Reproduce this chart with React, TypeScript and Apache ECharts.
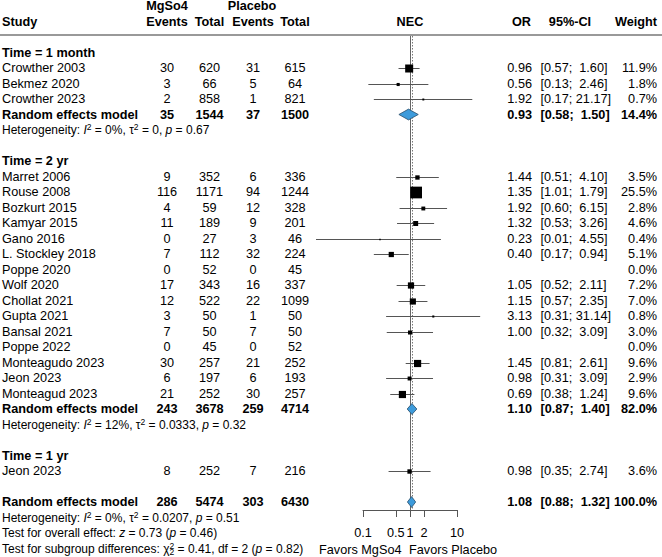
import React, { useEffect, useRef } from "react";
import * as echarts from "echarts";

const FONT = '"Liberation Sans", Arial, Helvetica, sans-serif';
const FS = 12.7;
const FS_SMALL = 12;

const groupLabels = ["Time = 1 month", "Time = 2 yr", "Time = 1 yr"];

const studies = [
  "Crowther 2003", "Bekmez 2020", "Crowther 2023",
  "Marret 2006", "Rouse 2008", "Bozkurt 2015", "Kamyar 2015", "Gano 2016",
  "L. Stockley 2018", "Poppe 2020", "Wolf 2020", "Chollat 2021", "Gupta 2021",
  "Bansal 2021", "Poppe 2022", "Monteagudo 2023", "Jeon 2023", "Monteagud 2023",
  "Jeon 2023",
];
const subgroup = [0, 0, 0, 1, 1, 1, 1, 1, 1, 1, 1, 1, 1, 1, 1, 1, 1, 1, 2];
const mgEvents = [30, 3, 2, 9, 116, 4, 11, 0, 7, 0, 17, 12, 3, 7, 0, 30, 6, 21, 8];
const mgTotal = [620, 66, 858, 352, 1171, 59, 189, 27, 112, 52, 343, 522, 50, 50, 45, 257, 197, 252, 252];
const plEvents = [31, 5, 1, 6, 94, 12, 9, 3, 32, 0, 16, 22, 1, 7, 0, 21, 6, 30, 7];
const plTotal = [615, 64, 821, 336, 1244, 328, 201, 46, 224, 45, 337, 1099, 50, 50, 52, 252, 193, 257, 216];
const oddsRatio = [0.96, 0.56, 1.92, 1.44, 1.35, 1.92, 1.32, 0.23, 0.4, null, 1.05, 1.15, 3.13, 1.0, null, 1.45, 0.98, 0.69, 0.98];
const ciLower = [0.57, 0.13, 0.17, 0.51, 1.01, 0.6, 0.53, 0.01, 0.17, null, 0.52, 0.57, 0.31, 0.32, null, 0.81, 0.31, 0.38, 0.35];
const ciUpper = [1.6, 2.46, 21.17, 4.1, 1.79, 6.15, 3.26, 4.55, 0.94, null, 2.11, 2.35, 31.14, 3.09, null, 2.61, 3.09, 1.24, 2.74];
const weight = [11.9, 1.8, 0.7, 3.5, 25.5, 2.8, 4.6, 0.4, 5.1, 0.0, 7.2, 7.0, 0.8, 3.0, 0.0, 9.6, 2.9, 9.6, 3.6];

// Random effects models: Time = 1 month, Time = 2 yr, overall
const pooledMgEvents = [35, 243, 286];
const pooledMgTotal = [1544, 3678, 5474];
const pooledPlEvents = [37, 259, 303];
const pooledPlTotal = [1500, 4714, 6430];
const pooledOR = [0.93, 1.1, 1.08];
const pooledLower = [0.58, 0.87, 0.88];
const pooledUpper = [1.5, 1.4, 1.32];
const pooledWeight = [14.4, 82.0, 100.0];
const hetI2 = ["0%", "12%", "0%"];
const hetTau2 = ["0", "0.0333", "0.0207"];
const hetP = ["0.67", "0.32", "0.51"];

const overallZ = "0.73";
const overallP = "0.46";
const subgroupChi2 = "0.41";
const subgroupDf = 2;
const subgroupP = "0.82";

const tickValues = [0.1, 0.5, 1, 2, 10];
const nullEffect = 1;

// table columns (pixel anchors)
const COL = { study: 2, mgEv: 167, mgTot: 209.5, plEv: 253, plTot: 295, nec: 410, or: 532, ci: 540.5, weight: 657 };
const ROW_MIN = -2.065;
const ROW_MAX = 28.516;
const SQUARE_SCALE = 2.32;
const NB = "\u00A0";

type Cell = { x: number; text: string; align: "left" | "center" | "right"; bold?: boolean; rich?: boolean; size?: number };
type TextRow = { row: number; cells: Cell[] };
type Mark = { row: number; est: number; lo: number; hi: number; w: number };

const f2 = (v: number) => v.toFixed(2);
const ciText = (lo: number, hi: number) => {
  const h = f2(hi);
  return `[${f2(lo)};${NB}${h.length < 5 ? NB : ""}${h}]`;
};

const rowCells = (
  label: string, a: number, b: number, c: number, d: number,
  est: number | null, lo: number | null, hi: number | null, w: number, bold: boolean
): Cell[] => {
  const cells: Cell[] = [
    { x: COL.study, text: label, align: "left", bold },
    { x: COL.mgEv, text: String(a), align: "center", bold },
    { x: COL.mgTot, text: String(b), align: "center", bold },
    { x: COL.plEv, text: String(c), align: "center", bold },
    { x: COL.plTot, text: String(d), align: "center", bold },
    { x: COL.weight, text: w.toFixed(1) + "%", align: "right", bold },
  ];
  if (est != null && lo != null && hi != null) {
    cells.push({ x: COL.or, text: f2(est), align: "right", bold });
    cells.push({ x: COL.ci, text: ciText(lo, hi), align: "left", bold });
  }
  return cells;
};

const textRows: TextRow[] = [];
const studyMarks: Mark[] = [];
const pooledMarks: Mark[] = [];

textRows.push({
  row: -4,
  cells: [
    { x: COL.mgEv, text: "MgSo4", align: "center", bold: true },
    { x: COL.plEv - 1, text: "Placebo", align: "center", bold: true },
  ],
});
textRows.push({
  row: -3,
  cells: [
    { x: COL.study, text: "Study", align: "left", bold: true },
    { x: COL.mgEv, text: "Events", align: "center", bold: true },
    { x: COL.mgTot, text: "Total", align: "center", bold: true },
    { x: COL.plEv, text: "Events", align: "center", bold: true },
    { x: COL.plTot, text: "Total", align: "center", bold: true },
    { x: COL.nec, text: "NEC", align: "center", bold: true },
    { x: COL.or - 1, text: "OR", align: "right", bold: true },
    { x: 570, text: "95%-CI", align: "center", bold: true },
    { x: COL.weight, text: "Weight", align: "right", bold: true },
  ],
});

const hetText = (k: number) =>
  `Heterogeneity: {i|I}{sup|2} = ${hetI2[k]}, τ{sup|2} = ${hetTau2[k]}, {i|p} = ${hetP[k]}`;

let r = -1;
let pk = 0;
groupLabels.forEach((label, g) => {
  textRows.push({ row: r, cells: [{ x: COL.study, text: label, align: "left", bold: true }] });
  r++;
  const idx = studies.map((_, i) => i).filter((i) => subgroup[i] === g);
  idx.forEach((i) => {
    textRows.push({
      row: r,
      cells: rowCells(studies[i], mgEvents[i], mgTotal[i], plEvents[i], plTotal[i], oddsRatio[i], ciLower[i], ciUpper[i], weight[i], false),
    });
    const est = oddsRatio[i];
    if (est != null) studyMarks.push({ row: r, est, lo: ciLower[i] as number, hi: ciUpper[i] as number, w: weight[i] });
    r++;
  });
  if (idx.length > 1) {
    textRows.push({
      row: r,
      cells: rowCells("Random effects model", pooledMgEvents[pk], pooledMgTotal[pk], pooledPlEvents[pk], pooledPlTotal[pk], pooledOR[pk], pooledLower[pk], pooledUpper[pk], pooledWeight[pk], true),
    });
    pooledMarks.push({ row: r, est: pooledOR[pk], lo: pooledLower[pk], hi: pooledUpper[pk], w: pooledWeight[pk] });
    r++;
    textRows.push({ row: r, cells: [{ x: COL.study, text: hetText(pk), align: "left", rich: true, size: FS_SMALL }] });
    r++;
    pk++;
  }
  r++;
});

// overall model and tests
textRows.push({
  row: r,
  cells: rowCells("Random effects model", pooledMgEvents[pk], pooledMgTotal[pk], pooledPlEvents[pk], pooledPlTotal[pk], pooledOR[pk], pooledLower[pk], pooledUpper[pk], pooledWeight[pk], true),
});
pooledMarks.push({ row: r, est: pooledOR[pk], lo: pooledLower[pk], hi: pooledUpper[pk], w: pooledWeight[pk] });
r++;
textRows.push({ row: r, cells: [{ x: COL.study, text: hetText(pk), align: "left", rich: true, size: FS_SMALL }] });
r++;
textRows.push({
  row: r,
  cells: [{ x: COL.study, text: `Test for overall effect: {i|z} = ${overallZ} ({i|p} = ${overallP})`, align: "left", rich: true, size: FS_SMALL }],
});
r++;
textRows.push({
  row: r,
  cells: [{ x: COL.study, text: `Test for subgroup differences: χ{supz|2}{sub|2} = ${subgroupChi2}, df = ${subgroupDf} ({i|p} = ${subgroupP})`, align: "left", rich: true, size: FS_SMALL }],
});
const lastRow = r;

const RICH = {
  i: { fontStyle: "italic", fontFamily: FONT, fontSize: FS_SMALL, fill: "#000", lineHeight: 15 },
  sup: { fontFamily: FONT, fontSize: 8.5, fill: "#000", verticalAlign: "top", lineHeight: 8 },
  supz: { fontFamily: FONT, fontSize: 8.5, fill: "#000", verticalAlign: "top", lineHeight: 8, width: 0.001 },
  sub: { fontFamily: FONT, fontSize: 8.5, fill: "#000", verticalAlign: "bottom", lineHeight: 8 },
};

const option = {
  animation: false,
  backgroundColor: "#fff",
  grid: { left: 363, top: 36, width: 94, height: 474, containLabel: false, outerBoundsMode: "none" },
  xAxis: {
    type: "log",
    logBase: 10,
    min: 0.1,
    max: 10,
    axisLine: { show: true, onZero: false, lineStyle: { color: "#555", width: 1 } },
    axisTick: { show: true, inside: false, length: 7, customValues: tickValues, lineStyle: { color: "#555", width: 1 } },
    axisLabel: {
      customValues: tickValues,
      margin: 16,
      color: "#000",
      fontFamily: FONT,
      fontSize: FS,
      hideOverlap: false,
      formatter: (v: number) => String(v),
    },
    splitLine: { show: false },
    minorTick: { show: false },
  },
  yAxis: { type: "value", inverse: true, min: ROW_MIN, max: ROW_MAX, show: false },
  series: [
    {
      // null effect (solid) and overall estimate (dotted)
      type: "custom",
      clip: false,
      silent: true,
      data: [[nullEffect, 0], [pooledOR[2], 1]],
      renderItem: (params: any, api: any) => {
        const v = api.value(0);
        const top = api.coord([v, ROW_MIN]);
        const bot = api.coord([v, ROW_MAX]);
        const x = Math.round(top[0]) + 0.5;
        const dotted = params.dataIndex === 1;
        return {
          type: "line",
          shape: { x1: x, y1: top[1], x2: x, y2: bot[1] },
          style: dotted
            ? { stroke: "#777", lineWidth: 1, lineDash: [1.5, 1.5] }
            : { stroke: "#666", lineWidth: 1 },
        };
      },
    },
    {
      // study confidence intervals and weight squares
      type: "custom",
      clip: false,
      silent: true,
      data: studyMarks.map((m) => [m.est, m.row]),
      renderItem: (params: any, api: any) => {
        const m = studyMarks[params.dataIndex];
        const c = api.coord([m.est, m.row]);
        const xl = api.coord([m.lo, m.row])[0];
        const xh = api.coord([m.hi, m.row])[0];
        const y = Math.round(c[1]) + 0.5;
        const side = SQUARE_SCALE * Math.sqrt(m.w);
        const inside = xl >= c[0] - side / 2 && xh <= c[0] + side / 2;
        const children: any[] = [
          { type: "line", shape: { x1: xl, y1: y, x2: xh, y2: y }, style: { stroke: "#555", lineWidth: 1 } },
          { type: "rect", shape: { x: c[0] - side / 2, y: y - side / 2, width: side, height: side }, style: { fill: "#000" } },
        ];
        if (inside) {
          children.push({ type: "line", shape: { x1: xl, y1: y, x2: xh, y2: y }, style: { stroke: "#fff", lineWidth: 1 } });
        }
        return { type: "group", children };
      },
    },
    {
      // random effects diamonds
      type: "custom",
      clip: false,
      silent: true,
      data: pooledMarks.map((m) => [m.est, m.row]),
      renderItem: (params: any, api: any) => {
        const m = pooledMarks[params.dataIndex];
        const c = api.coord([m.est, m.row]);
        const xl = api.coord([m.lo, m.row])[0];
        const xh = api.coord([m.hi, m.row])[0];
        const h = 5.4;
        return {
          type: "polygon",
          shape: { points: [[xl, c[1]], [c[0], c[1] - h], [xh, c[1]], [c[0], c[1] + h]] },
          style: { fill: "#3D9BDB", stroke: "#2C4F6B", lineWidth: 0.8 },
        };
      },
    },
    {
      // table text
      type: "custom",
      clip: false,
      silent: true,
      data: textRows.map((t) => [nullEffect, t.row]),
      renderItem: (params: any, api: any) => {
        const tr = textRows[params.dataIndex];
        const y = api.coord([nullEffect, tr.row])[1];
        return {
          type: "group",
          children: tr.cells.map((c) => ({
            type: "text",
            x: c.x,
            y,
            style: {
              text: c.text,
              fill: "#000",
              fontFamily: FONT,
              fontSize: c.size ?? FS,
              fontWeight: c.bold ? "bold" : "normal",
              align: c.align,
              verticalAlign: "middle",
              lineHeight: 15,
              rich: c.rich ? RICH : undefined,
            },
          })),
        };
      },
    },
    {
      // header rule and direction labels
      type: "custom",
      clip: false,
      silent: true,
      data: [[nullEffect, -2.13]],
      renderItem: (params: any, api: any) => {
        const rule = api.coord([nullEffect, -2.13]);
        const fav = api.coord([nullEffect, lastRow + 0.1]);
        return {
          type: "group",
          children: [
            { type: "line", shape: { x1: 0, y1: rule[1], x2: 662, y2: rule[1] }, style: { stroke: "#777", lineWidth: 1.5 } },
            {
              type: "text", x: fav[0] - 8.5, y: fav[1],
              style: { text: "Favors MgSo4", fill: "#000", fontFamily: FONT, fontSize: FS, align: "right", verticalAlign: "middle" },
            },
            {
              type: "text", x: fav[0] - 1, y: fav[1],
              style: { text: "Favors Placebo", fill: "#000", fontFamily: FONT, fontSize: FS, align: "left", verticalAlign: "middle" },
            },
          ],
        };
      },
    },
  ],
};

export default function App() {
  const ref = useRef<HTMLDivElement>(null);
  useEffect(() => {
    const chart = echarts.init(ref.current as HTMLDivElement, undefined, { renderer: "svg" });
    chart.setOption(option as any);
    return () => chart.dispose();
  }, []);
  return (
    <div
      ref={ref}
      style={{ position: "absolute", left: 0, top: 0, width: 662, height: 557, background: "#fff" }}
    />
  );
}
